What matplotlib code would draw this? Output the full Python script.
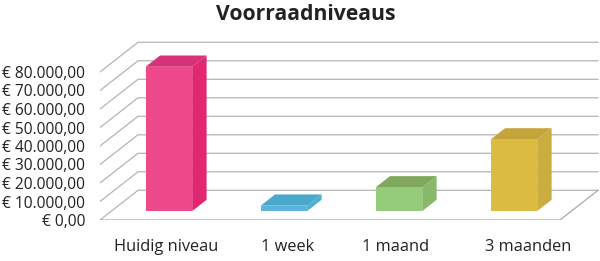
import matplotlib
matplotlib.use('Agg')
import matplotlib.pyplot as plt
from matplotlib.patches import Polygon

# Data
categories = ['Huidig niveau', '1 week', '1 maand', '3 maanden']
values = [78000, 2900, 12800, 38700]
yticks = [0, 10000, 20000, 30000, 40000, 50000, 60000, 70000, 80000]

front_colors = ['#F0498B', '#5AB5D8', '#95CC7A', '#DCBB42']
side_colors = ['#E1276F', '#4FAED2', '#88B96A', '#C9AD3E']
top_colors = ['#D7327A', '#4AA8CB', '#80A85C', '#C5A53A']

# small nudges of the category labels (as in the original layout)
label_shift = [-0.02, 0.03, -0.03, 0.12]

def euro(v):
    s = f'{v:,.2f}'.replace(',', 'X').replace('.', ',').replace('X', '.')
    return '€ ' + s

plt.rcParams['font.family'] = ['Open Sans', 'DejaVu Sans']

fig = plt.figure(figsize=(6, 2.61), dpi=100)
ax = fig.add_axes([100/600, 41/261, 500/600, 190/261])
ax.set_xlim(-0.5, -0.5 + 500/115)
ax.set_ylim(0, 190/18.5*10000)

# depth offsets (one full floor depth)
DX = 38/115
DY = 29.7/18.5*10000

def proj(x, v, d):
    return (x + d*DX, v + d*DY)

x0, x1 = -0.5, len(categories) - 0.5
grid_c = '#b4b4b4'
# gridlines on left wall and back wall
for v in yticks:
    pts = [proj(x0, v, 0), proj(x0, v, 1), proj(x1, v, 1)]
    ax.plot([p[0] for p in pts], [p[1] for p in pts], color=grid_c, lw=0.9, zorder=1)
# floor front and right edge
fl = [proj(x0, 0, 0), proj(x1, 0, 0), proj(x1, 0, 1)]
ax.plot([p[0] for p in fl], [p[1] for p in fl], color='#a8a8a8', lw=0.9, zorder=1)

# 3D bars
w = 0.2025
d0, d1 = 0.3, 0.68
for i, v in enumerate(values):
    front = [proj(i-w, 0, d0), proj(i+w, 0, d0), proj(i+w, v, d0), proj(i-w, v, d0)]
    side = [proj(i+w, 0, d0), proj(i+w, 0, d1), proj(i+w, v, d1), proj(i+w, v, d0)]
    top = [proj(i-w, v, d0), proj(i+w, v, d0), proj(i+w, v, d1), proj(i-w, v, d1)]
    ax.add_patch(Polygon(side, closed=True, fc=side_colors[i], ec='none', zorder=3))
    ax.add_patch(Polygon(top, closed=True, fc=top_colors[i], ec='none', zorder=3))
    ax.add_patch(Polygon(front, closed=True, fc=front_colors[i], ec='none', zorder=4))

ax.set_yticks(yticks)
ax.set_yticklabels([euro(v) for v in yticks], fontsize=11.2, color='#222222')
ax.set_xticks([i + d0*DX + label_shift[i] for i in range(len(categories))])
ax.set_xticklabels(categories, fontsize=11.8, color='#222222')
ax.tick_params(axis='y', length=0, pad=10.5)
ax.tick_params(axis='x', length=0, pad=14)
for s in ax.spines.values():
    s.set_visible(False)

fig.text(306/600, 1 - 14/261, 'Voorraadniveaus', ha='center', va='center',
         fontsize=15.2, fontweight='bold', color='#222222')

fig.savefig('out.png', dpi=100)
